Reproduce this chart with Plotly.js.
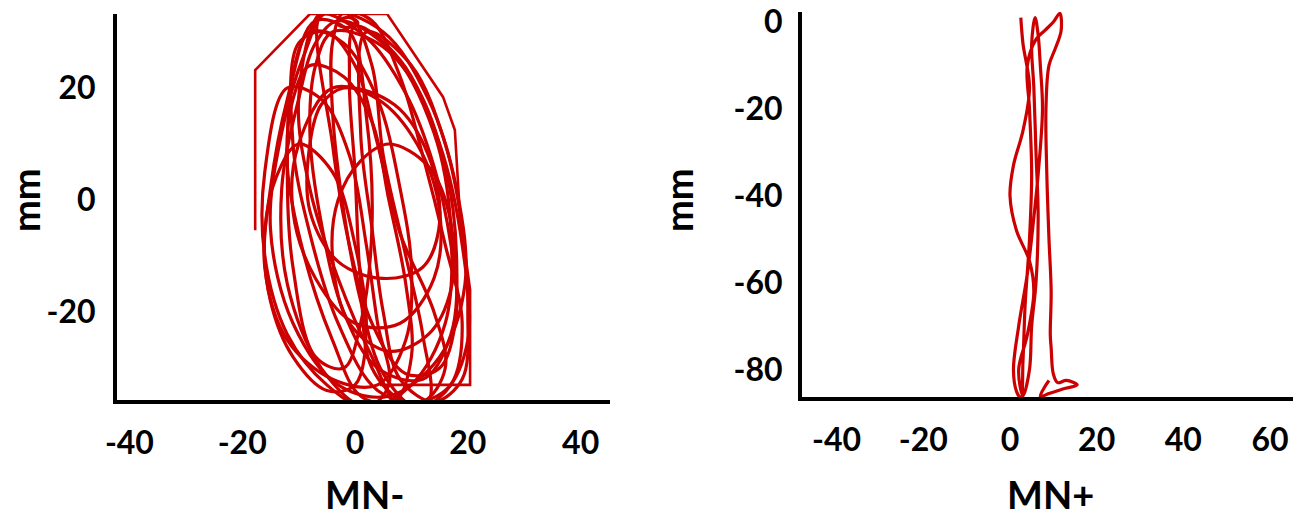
<!DOCTYPE html>
<html>
<head>
<meta charset="utf-8">
<script src="https://cdn.plot.ly/plotly-3.0.1.min.js"></script>
<style>html,body{margin:0;padding:0;background:#fff;}#chart{width:1300px;height:519px;}</style>
</head>
<body>
<div id="chart"></div>
<script>
// ---- Left panel (MN-): loops of the trajectory ----
const mnMinusLoopsX = [
  [-5,5,13,18,19.5,15,6,-3,-11,-15,-13,-9,-5],
  [-3,6,14,17,16,10,2,-6,-12,-13,-10,-7,-3],
  [-2,3,8,12,16,19,17,11,5,1,-2,-4,-4,-2],
  [-7,-1,2,3,1,-2,-7,-11,-12,-11,-7],
  [0,8,15,19,20,16,9,3,1,0,-1,0],
  [-4,4,11,16,18,17,12,4,-2,-6,-8,-7,-4],
  [-4,4,11,15,14,8,0,-7,-11,-10,-4],
  [6,13,17,17,13,6,-1,-4,-3,1,6],
  [-2,7,13,15,12,5,-3,-8,-8,-6,-2],
  [-10,-4,0,2,0,-5,-11,-15,-16,-14,-10],
  [-8,-2,3,6,9,10,7,1,-4,-9,-12,-11,-8],
  [-6,-1,3,5,9,12,13,8,3,-3,-8,-10,-6],
  [-3,-1,0.5,-1,-3,-3],
  [-8,-2,4,8,10,9,4,-4,-12,-16,-15,-12,-8],
  [-12,-6,-1,2,4,6,2,-5,-12,-16,-16,-12],
  [2,10,16,19,20,19,14,8,5,3,1,2],
  [-10,-5,0,4,8,14,16,12,4,-3,-8,-11,-10],
  [-6,2,9,14,17,18,15,9,3,-1,-4,-6]
];
const mnMinusLoopsY = [
  [33.5,30,18,2,-15,-28,-35,-33,-22,-5,12,26,33.5],
  [32,27,12,-5,-22,-33,-37,-30,-15,2,18,28,32],
  [33.5,32,22,8,-8,-22,-33,-37,-31,-18,-2,16,28,33.5],
  [32,30,15,-5,-22,-30,-28,-12,5,22,32],
  [31,25,10,-8,-25,-34,-36,-30,-15,5,22,31],
  [30,28,20,6,-10,-24,-32,-30,-20,-4,12,24,30],
  [20,18,10,-2,-14,-22,-22,-14,-2,10,20],
  [10,6,-4,-16,-24,-27,-22,-10,0,7,10],
  [20,17,8,-4,-12,-14,-11,-2,10,17,20],
  [10,5,-8,-22,-33,-34,-28,-18,-6,4,10],
  [24,22,14,0,-15,-28,-36,-35,-25,-10,6,18,24],
  [33.5,33,24,8,-10,-24,-36,-37,-28,-14,2,18,33.5],
  [32,32.6,31.6,30.8,31.3,32],
  [30,28,18,2,-12,-25,-33,-32,-25,-12,2,18,30],
  [20,18,8,-8,-22,-33,-37,-33,-24,-10,5,20],
  [30,24,10,-5,-20,-32,-36,-32,-20,-5,12,30],
  [28,30,24,10,-6,-20,-30,-36,-34,-22,-6,10,28],
  [33,29,19,6,-8,-20,-30,-31,-22,-8,10,33]
];
// outer straight-edged envelope
const mnMinusEnvX = [-17.7,-17.7,-8,5.7,15.6,17.7,18.6,20.4,20.4,4.4];
const mnMinusEnvY = [-5.4,23.2,33.2,33.2,18.4,12.5,-2.7,-16,-33,-33];

// ---- Right panel (MN+) trajectory ----
const mnPlusX = [2.5,3,4.5,3,0.8,0,1.5,4.5,5.5,4,2,3,
  4.5,5,6,6.5,6,5.5,5,5.8,
  6.5,7,7.5,6.5,5.5,4,2,0.8,1.5,2.5,
  3,3.5,4.5,5,4.5,4,6,8,10,11.5,
  11.8,10.5,9,8.3,8.5,9,9.5,9.3,9.5,10,11,13,15.5,12,9,7,8,9];
const mnPlusY = [1,-5,-15,-25,-33,-40,-48,-55,-62,-72,-80,-86,
  -80,-70,-60,-45,-30,-15,-5,1,
  -3,-10,-20,-35,-45,-58,-70,-80,-85,-86.5,
  -78,-65,-50,-35,-20,-10,-4,-2,0,2,
  -2,-6,-10,-20,-35,-50,-62,-72,-75,-81,-83,-82.5,-83.5,-84.5,-85.5,-86.2,-84,-82.5];

// axis ticks (labels use a plain hyphen as in the source)
const leftXTicks = [-40,-20,0,20,40];
const leftXLabels = ['-40','-20','0','20','40'];
const leftYTicks = [-20,0,20];
const leftYLabels = ['-20','0','20'];
const rightXTicks = [-40,-20,0,20,40,60];
const rightXLabels = ['-40','-20','0','20','40','60'];
const rightYTicks = [-80,-60,-40,-20,0];
const rightYLabels = ['-80','-60','-40','-20','0'];
const titles = {leftX: 'MN-', leftY: 'mm', rightX: 'MN+', rightY: 'mm'};

const RED = '#cc0000';
const FONT = {family: 'Lato, "Open Sans", sans-serif', size: 32, color: '#000', weight: 700};
const TFONT = {family: 'Lato, "Open Sans", sans-serif', size: 38, color: '#000', weight: 700};

// flatten loops with null separators
const lx = [], ly = [];
mnMinusLoopsX.forEach((arr, i) => {
  arr.forEach((v, j) => { lx.push(v); ly.push(mnMinusLoopsY[i][j]); });
  lx.push(null); ly.push(null);
});

const traces = [
  {x: lx, y: ly, xaxis: 'x', yaxis: 'y', mode: 'lines',
   line: {color: RED, width: 3.2, shape: 'spline', smoothing: 1}, connectgaps: false, hoverinfo: 'skip'},
  {x: mnMinusEnvX, y: mnMinusEnvY, xaxis: 'x', yaxis: 'y', mode: 'lines',
   line: {color: RED, width: 2.6}, hoverinfo: 'skip'},
  {x: mnPlusX, y: mnPlusY, xaxis: 'x2', yaxis: 'y2', mode: 'lines',
   line: {color: RED, width: 3.2, shape: 'spline', smoothing: 1}, hoverinfo: 'skip'}
];

function axisBase(extra) {
  return Object.assign({
    showgrid: false, zeroline: false, showline: true, linecolor: '#000', linewidth: 4,
    ticks: 'outside', tickcolor: 'rgba(0,0,0,0)', tickfont: FONT, fixedrange: true, tickmode: 'array'
  }, extra);
}

const W = 1300, H = 519;
function ann(text, px, py, angle, xa, ya) {
  return {text: text, xref: 'paper', yref: 'paper', x: px / W, y: (H - py) / H,
    xanchor: xa || 'center', yanchor: ya || 'middle', showarrow: false, textangle: angle || 0,
    font: TFONT, borderpad: 0};
}

const layout = {
  width: W, height: H,
  margin: {l: 0, r: 0, t: 0, b: 0},
  paper_bgcolor: '#fff', plot_bgcolor: '#fff',
  showlegend: false,
  xaxis: axisBase({domain: [0.09, 0.4692], range: [-42.2, 45.2], tickvals: leftXTicks, ticktext: leftXLabels,
    ticklen: 12, anchor: 'y'}),
  yaxis: axisBase({domain: [0.2293, 0.9730], range: [-35.7, 33.2], tickvals: leftYTicks, ticktext: leftYLabels,
    ticklen: 11, anchor: 'x'}),
  xaxis2: axisBase({domain: [0.6169, 0.9946], range: [-48, 65.3], tickvals: rightXTicks, ticktext: rightXLabels,
    ticklen: 12, anchor: 'y2'}),
  yaxis2: axisBase({domain: [0.2351, 0.9769], range: [-86.3, 2.3], tickvals: rightYTicks, ticktext: rightYLabels,
    ticklen: 9, anchor: 'x2'}),
  annotations: [
    ann(titles.leftX, 364, 518, 0, 'center', 'bottom'),
    ann(titles.leftY, 1, 200, -90, 'left', 'middle'),
    ann(titles.rightX, 1050, 518, 0, 'center', 'bottom'),
    ann(titles.rightY, 678, 200, -90)
  ]
};

Plotly.newPlot('chart', traces, layout, {displayModeBar: false, staticPlot: true});
</script>
</body>
</html>
